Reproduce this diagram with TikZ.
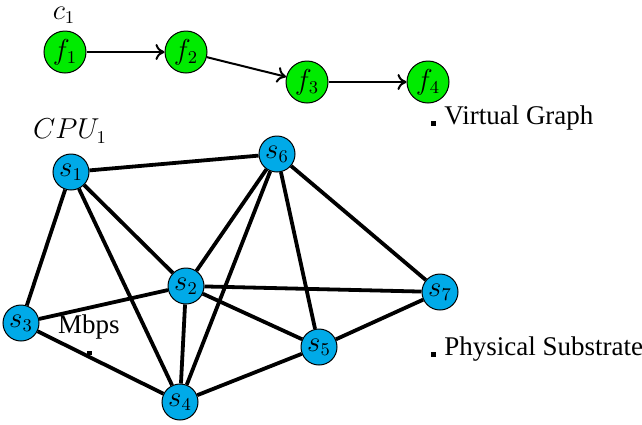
\documentclass[tikz,border=0pt]{standalone}
\usepackage{fontspec}
\setmainfont{Liberation Serif}
\usetikzlibrary{arrows.meta}
\definecolor{vgreen}{RGB}{0,235,0}
\definecolor{pblue}{RGB}{0,170,232}
\begin{document}
\begin{tikzpicture}[x=0.5pt,y=-0.5pt,
  every node/.style={font=\fontsize{13.5}{16}\selectfont},
  vnf/.style={circle,draw=black,line width=0.5pt,fill=vgreen,minimum size=21pt,inner sep=0pt},
  sub/.style={circle,draw=black,line width=0.5pt,fill=pblue,minimum size=18pt,inner sep=0pt},
  varrow/.style={line width=1pt,-{To[length=4.5pt,width=8pt]}},
  link/.style={line width=1.9pt},
  lbl/.style={inner sep=0pt,anchor=west},
  marker/.style={fill=black}]
\useasboundingbox (0,0) rectangle (642,424);
% virtual graph
\node[vnf] (f1) at (65,52) {$f_1$};
\node[vnf] (f2) at (186,52) {$f_2$};
\node[vnf] (f3) at (307,82) {$f_3$};
\node[vnf] (f4) at (428,82) {$f_4$};
\node[inner sep=0pt] (c1) at (64,15) {$c_1$};
\draw[varrow] (f1) -- (f2);
\draw[varrow] (f2) -- (f3);
\draw[varrow] (f3) -- (f4);
% physical substrate
\node[inner sep=0pt] (cpu) at (70,131) {$CPU_1$};
\node[sub] (s1) at (71,172) {$s_1$};
\node[sub] (s6) at (277,154) {$s_6$};
\node[sub] (s2) at (186,286) {$s_2$};
\node[sub] (s7) at (440,292) {$s_7$};
\node[sub] (s3) at (21,323) {$s_3$};
\node[sub] (s5) at (319,347) {$s_5$};
\node[sub] (s4) at (180,402) {$s_4$};
\draw[link] (s1) -- (s6);
\draw[link] (s1) -- (s3);
\draw[link] (s1) -- (s2);
\draw[link] (s1) -- (s4);
\draw[link] (s6) -- (s2);
\draw[link] (s6) -- (s4);
\draw[link] (s6) -- (s5);
\draw[link] (s6) -- (s7);
\draw[link] (s2) -- (s3);
\draw[link] (s2) -- (s7);
\draw[link] (s2) -- (s5);
\draw[link] (s2) -- (s4);
\draw[link] (s3) -- (s4);
\draw[link] (s4) -- (s5);
\draw[link] (s5) -- (s7);
% labels
\node (mbps) at (89,327) {Mbps};
\fill[marker] (87,351) rectangle (92,355);
\fill[marker] (431,121) rectangle (436,126);
\node[lbl] (vg) at (444,118) {Virtual Graph};
\fill[marker] (431,352) rectangle (436,357);
\node[lbl] (ps) at (444,349) {Physical Substrate};
\end{tikzpicture}
\end{document}
